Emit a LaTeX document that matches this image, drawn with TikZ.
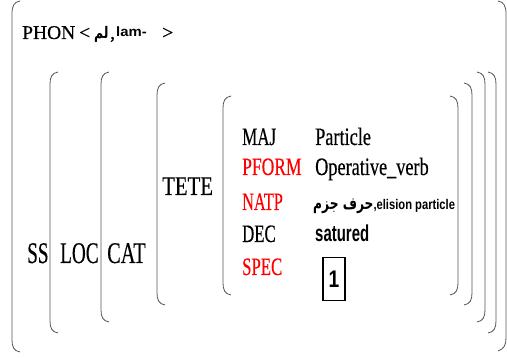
\documentclass[tikz,border=0pt]{standalone}
\usepackage{fontspec}
\usepackage{graphicx}
\setmainfont{Liberation Serif}[FakeBold=0.4]
\newfontfamily\sansbold{Liberation Sans}
\newfontfamily\arabicfont[Script=Arabic]{DejaVu Sans}
\TeXXeTstate=1
\definecolor{brkgray}{HTML}{555555}
\definecolor{featred}{HTML}{FF0000}

\begin{document}
\begin{tikzpicture}[x=1pt,y=-1pt,
  brk/.style={line width=0.8pt,brkgray},
  txt/.style={anchor=base west,inner sep=0pt},
  big/.style={txt,font=\fontsize{30}{30}\selectfont},
  feat/.style={txt,font=\fontsize{25}{25}\selectfont},
  val/.style={txt,font=\fontsize{25}{25}\selectfont}]
\useasboundingbox (0,0) rectangle (507,358);
% outer brackets
\draw[brk] (20,1) .. controls (14,2) and (12,6) .. (12,14) -- (12,340) .. controls (12,347) and (14,351) .. (20,352);
\draw[brk] (498,1) .. controls (504,2) and (506,6) .. (506,14) -- (506,338) .. controls (506,345) and (504,349) .. (498,351);
% SS
\draw[brk] (58,72) .. controls (52,73) and (50,77) .. (50,84) -- (50,321) .. controls (50,328) and (52,332) .. (58,333);
\draw[brk] (488,72) .. controls (494,73) and (496,77) .. (496,84) -- (496,321) .. controls (496,328) and (494,332) .. (488,333);
% LOC
\draw[brk] (109,72) .. controls (103,73) and (101,77) .. (101,84) -- (101,310) .. controls (101,317) and (103,321) .. (109,322);
\draw[brk] (477,72) .. controls (483,73) and (485,77) .. (485,84) -- (485,310) .. controls (485,317) and (483,321) .. (477,322);
% CAT
\draw[brk] (165,83) .. controls (159,84) and (157,88) .. (157,95) -- (157,293) .. controls (157,300) and (159,304) .. (165,305);
\draw[brk] (464,83) .. controls (470,84) and (472,88) .. (472,95) -- (472,293) .. controls (472,300) and (470,304) .. (464,305);
% TETE
\draw[brk] (231,96) .. controls (225,97) and (223,101) .. (223,108) -- (223,283) .. controls (223,290) and (225,294) .. (231,295);
\draw[brk] (450,96) .. controls (456,97) and (458,101) .. (458,108) -- (458,283) .. controls (458,290) and (456,294) .. (450,295);

% PHON line
\node[txt,font=\fontsize{19.5}{19.5}\selectfont] (phon) at (22,39) {PHON};
\node[txt,font=\fontsize{19.5}{19.5}\selectfont] (phonlt) at (79,39) {<};
\node[txt,font=\arabicfont\bfseries\fontsize{16}{16}\selectfont] (phonar) at (94,39) {\scalebox{0.78}[1]{\beginR لم\endR}};
\node[txt,font=\fontsize{19.5}{19.5}\selectfont] (phoncm) at (110,39) {,};
\node[txt,font=\sansbold\bfseries\fontsize{13.5}{13.5}\selectfont] (phonlam) at (116,37) {\scalebox{1.1}[1]{lam-}};
\node[txt,font=\fontsize{19.5}{19.5}\selectfont] (phongt) at (162,39) {>};

% path labels
\node[big] (ss) at (27,263) {\scalebox{0.64}[1]{SS}};
\node[big] (loc) at (60,263) {\scalebox{0.64}[1]{LOC}};
\node[big] (cat) at (107,263) {\scalebox{0.68}[1]{CAT}};
\node[txt,font=\fontsize{27}{27}\selectfont] (tete) at (162,195) {\scalebox{0.77}[1]{TETE}};

% features
\node[feat] (maj) at (242,145) {\scalebox{0.68}[1]{MAJ}};
\node[feat,featred] (pform) at (242,175) {\scalebox{0.7}[1]{PFORM}};
\node[feat,featred] (natp) at (242,210) {\scalebox{0.65}[1]{NATP}};
\node[feat] (dec) at (242,242) {\scalebox{0.67}[1]{DEC}};
\node[feat,featred] (spec) at (242,275) {\scalebox{0.67}[1]{SPEC}};

% values
\node[val] (majv) at (315,145) {\scalebox{0.73}[1]{Particle}};
\node[val] (pformv) at (315,175) {\scalebox{0.73}[1]{Operative\_verb}};
\node[txt] (natpv) at (313,210)
  {{\arabicfont\bfseries\fontsize{17}{17}\selectfont\scalebox{0.72}[1]{\beginR حرف جزم\endR}}{\sansbold\bfseries\fontsize{14}{14}\selectfont\scalebox{0.8}[1]{,elision particle}}};
\node[txt,font=\sansbold\bfseries\fontsize{23}{23}\selectfont] (decv) at (315,242) {\scalebox{0.65}[1]{satured}};
\node[draw,line width=1.2pt,minimum width=22pt,minimum height=43pt,inner sep=0pt,
  font=\sansbold\bfseries\fontsize{24}{24}\selectfont] (specv) at (334,279) {\scalebox{0.8}[1]{1}};
\end{tikzpicture}
\end{document}
